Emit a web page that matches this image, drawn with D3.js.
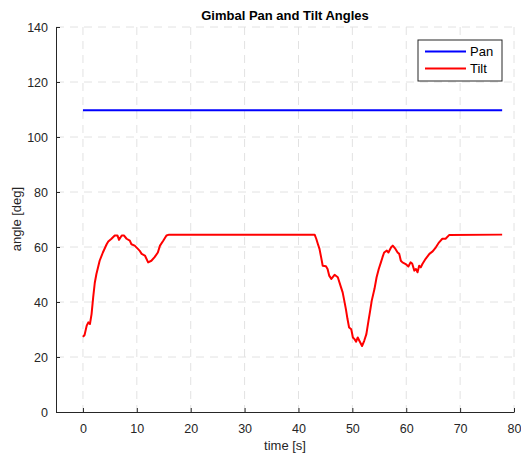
<!DOCTYPE html>
<html>
<head>
<meta charset="utf-8">
<script src="https://cdn.jsdelivr.net/npm/d3@7"></script>
<style>
  body { margin: 0; background: #fff; }
  text { font-family: "Liberation Sans", Arial, sans-serif; }
</style>
</head>
<body>
<svg id="chart"></svg>
<script>
// series values
let tiltTime = [0, 0.3, 0.7, 1.0, 1.3, 1.6, 1.9, 2.2, 2.5, 3.1, 3.7, 4.4, 4.7, 5.3, 5.9, 6.4, 6.7, 7.2, 7.6,
  8.1, 8.7, 9.0, 9.6, 10.2, 10.5, 10.9, 11.5, 12.1, 12.7, 13.3, 13.9, 14.3, 14.9, 15.5, 16.0,
  43.0, 43.3, 43.6, 43.9, 44.2, 44.5, 45.1, 45.4, 45.7, 46.1, 46.7, 47.3, 47.9, 48.2, 48.5, 48.8,
  49.1, 49.4, 49.8, 50.1, 50.4, 50.7, 51.0, 51.3, 51.8, 52.2, 52.6, 53.0, 53.3, 53.6, 54.1, 54.5,
  54.9, 55.3, 55.6, 55.9, 56.4, 56.7, 57.2, 57.5, 58.0, 58.4, 58.7, 59.0, 59.3, 59.9, 60.4, 60.8,
  61.1, 61.5, 61.8, 62.1, 62.4, 62.7, 63.0, 63.6, 64.3, 64.9, 65.5, 66.1, 66.7, 67.3, 68.0, 77.8]
let tiltValues = [27.3, 28, 31.4, 32.6, 32, 35.6, 41.7, 47, 50.2, 55, 58, 61, 62, 63, 64.2, 64.2, 62.6, 64.2, 64.2,
  63, 62.3, 61, 60.5, 59.3, 58.7, 57.5, 56.9, 54.4, 55, 56.3, 58, 60.5, 62.3, 64.2, 64.5,
  64.5, 63, 61.1, 59.3, 56.3, 53.2, 53, 52, 49.6, 48.4, 49.9, 49, 45.3, 43.5, 40.5, 37.4,
  33.8, 30.7, 30.1, 27.1, 26.5, 25.6, 27.1, 25.9, 24, 25.9, 28.3, 33.2, 36.8, 40.5, 44.7, 49,
  52, 54.4, 56.3, 58, 58.7, 58, 59.9, 60.5, 59.3, 58, 57.5, 55, 54.4, 53.8, 52.9, 54.4,
  54, 51.4, 52, 50.8, 53.2, 52.6, 53.8, 55.7, 57.5, 58.4, 59.9, 61.7, 63, 63, 64.4, 64.5]
let panTime = [0, 77.8]
let panValues = [109.7, 109.7]

let xTicks = [0, 10, 20, 30, 40, 50, 60, 70, 80]
let yTicks = [0, 20, 40, 60, 80, 100, 120, 140]
let seriesNames = ["Pan", "Tilt"]
let seriesColors = ["#0000ff", "#ff0000"]

let width = 521
let height = 455
let margin = { left: 56, right: 7, top: 27, bottom: 43 }
let bodyWidth = width - margin.left - margin.right
let bodyHeight = height - margin.top - margin.bottom

let svg = d3.select("#chart")
    .attr("width", width)
    .attr("height", height)

let chart = svg.append("g")
    .attr("transform", `translate(${margin.left}, ${margin.top})`)

let xScale = d3.scaleLinear()
    .domain([-5, 80])
    .range([0, bodyWidth])

let yScale = d3.scaleLinear()
    .domain([0, 140])
    .range([bodyHeight, 0])

// dashed grid
chart.append("g")
    .selectAll("line")
    .data(xTicks)
    .enter()
    .append("line")
    .attr("x1", d => xScale(d))
    .attr("x2", d => xScale(d))
    .attr("y1", 0)
    .attr("y2", bodyHeight)
    .attr("stroke", "#e2e2e2")
    .attr("stroke-dasharray", "8,6")

chart.append("g")
    .selectAll("line")
    .data(yTicks.filter(d => d > 0))
    .enter()
    .append("line")
    .attr("x1", 0)
    .attr("x2", bodyWidth)
    .attr("y1", d => yScale(d))
    .attr("y2", d => yScale(d))
    .attr("stroke", "#e2e2e2")
    .attr("stroke-dasharray", "8,6")

// axes, ticks point inward like matlab
let xAxis = chart.append("g")
    .attr("transform", `translate(0, ${bodyHeight})`)
    .call(d3.axisBottom(xScale).tickValues(xTicks).tickSizeInner(-4).tickSizeOuter(0).tickPadding(12))

let yAxis = chart.append("g")
    .call(d3.axisLeft(yScale).tickValues(yTicks).tickSizeInner(-4).tickSizeOuter(0).tickPadding(8))

for (let axis of [xAxis, yAxis]) {
    axis.select(".domain").attr("stroke", "#262626")
    axis.selectAll(".tick line").attr("stroke", "#262626")
    axis.selectAll(".tick text")
        .attr("fill", "#262626")
        .style("font-size", "12.5px")
        .style("font-family", "'Liberation Sans', Arial, sans-serif")
}

// series
let line = d3.line()
    .x(d => xScale(d[0]))
    .y(d => yScale(d[1]))

chart.append("path")
    .datum(d3.zip(panTime, panValues))
    .attr("d", line)
    .attr("fill", "none")
    .attr("stroke", seriesColors[0])
    .attr("stroke-width", 2)

chart.append("path")
    .datum(d3.zip(tiltTime, tiltValues))
    .attr("d", line)
    .attr("fill", "none")
    .attr("stroke", seriesColors[1])
    .attr("stroke-width", 2)
    .attr("stroke-linejoin", "round")

// legend
let legend = svg.append("g")
    .attr("transform", "translate(418, 40)")

legend.append("rect")
    .attr("width", 84)
    .attr("height", 41)
    .attr("fill", "#fff")
    .attr("stroke", "#262626")
    .attr("stroke-width", 1)

seriesNames.forEach((name, i) => {
    legend.append("line")
        .attr("x1", 7)
        .attr("x2", 48)
        .attr("y1", 11.5 + i * 17)
        .attr("y2", 11.5 + i * 17)
        .attr("stroke", seriesColors[i])
        .attr("stroke-width", 2)
    legend.append("text")
        .attr("x", 52)
        .attr("y", 16 + i * 17)
        .attr("fill", "#000")
        .style("font-size", "13px")
        .text(name)
})

// labels
svg.append("text")
    .text("Gimbal Pan and Tilt Angles")
    .attr("x", 285)
    .attr("y", 20)
    .attr("text-anchor", "middle")
    .attr("font-weight", "bold")
    .style("font-size", "13px")
    .attr("fill", "#000")

svg.append("text")
    .text("time [s]")
    .attr("x", 285)
    .attr("y", 450)
    .attr("text-anchor", "middle")
    .style("font-size", "13px")
    .attr("fill", "#262626")

svg.append("text")
    .text("angle [deg]")
    .attr("transform", "translate(21, 219) rotate(-90)")
    .attr("text-anchor", "middle")
    .style("font-size", "13px")
    .attr("fill", "#262626")
</script>
</body>
</html>
